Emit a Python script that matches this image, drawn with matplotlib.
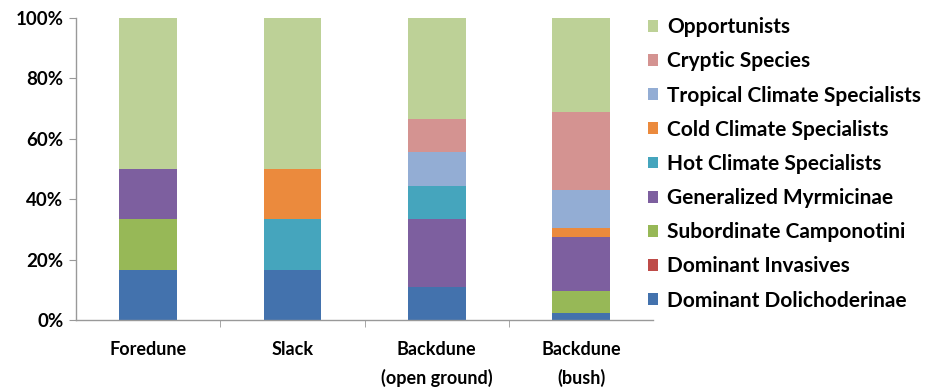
import numpy as np
import matplotlib
matplotlib.use("Agg")
import matplotlib.pyplot as plt
from matplotlib.patches import Patch
from matplotlib.ticker import PercentFormatter, FixedLocator

plt.rcParams["font.family"] = ["Lato", "DejaVu Sans"]
plt.rcParams["font.weight"] = "bold"

# ── data ─────────────────────────────────────────────────────
habitats = ["Foredune", "Slack", "Backdune\n(open ground)", "Backdune\n(bush)"]

groups = [
    "Dominant Dolichoderinae",
    "Dominant Invasives",
    "Subordinate Camponotini",
    "Generalized Myrmicinae",
    "Hot Climate Specialists",
    "Cold Climate Specialists",
    "Tropical Climate Specialists",
    "Cryptic Species",
    "Opportunists",
]

# percent of species per functional group, one list per habitat (bottom → top)
foredune = [16.7, 0.0, 16.7, 16.6, 0.0, 0.0, 0.0, 0.0, 50.0]
slack = [16.7, 0.0, 0.0, 0.0, 16.7, 16.6, 0.0, 0.0, 50.0]
backdune_open = [11.1, 0.0, 0.0, 22.2, 11.1, 0.0, 11.1, 11.1, 33.4]
backdune_bush = [2.4, 0.0, 7.3, 17.9, 0.0, 2.8, 12.7, 25.6, 31.3]

colours = [
    "#4372ad",  # Dominant Dolichoderinae
    "#be4b48",  # Dominant Invasives
    "#97b857",  # Subordinate Camponotini
    "#7d5f9f",  # Generalized Myrmicinae
    "#45a5bd",  # Hot Climate Specialists
    "#eb8a3d",  # Cold Climate Specialists
    "#93add4",  # Tropical Climate Specialists
    "#d49391",  # Cryptic Species
    "#bdd197",  # Opportunists
]

# ── figure ───────────────────────────────────────────────────
fig = plt.figure(figsize=(9.36, 3.89), dpi=100)
ax = fig.add_axes([0.081, 0.177, 0.617, 0.777])

table = np.array([foredune, slack, backdune_open, backdune_bush]).T
x = np.arange(len(habitats))
bottom = np.zeros(len(habitats))
for vals, col in zip(table, colours):
    ax.bar(x, vals, bottom=bottom, width=0.4, color=col, edgecolor="none")
    bottom += vals

ax.set_xlim(-0.5, len(habitats) - 0.5)
ax.set_ylim(0, 100)
ax.yaxis.set_major_locator(FixedLocator([0, 20, 40, 60, 80, 100]))
ax.yaxis.set_major_formatter(PercentFormatter(decimals=0))

ax.set_xticks(x)
ax.set_xticklabels(habitats, fontsize=13, fontweight="bold", linespacing=1.72)
ax.xaxis.set_minor_locator(FixedLocator(np.arange(0.5, len(habitats) - 0.5, 1.0)))
ax.tick_params(axis="x", which="major", length=0, pad=15)
ax.tick_params(axis="x", which="minor", length=5, color="#999999", direction="out")
ax.tick_params(axis="y", length=5, color="#999999", labelsize=13.5, pad=4)
for lbl in ax.get_yticklabels():
    lbl.set_fontweight("bold")

for side in ("top", "right"):
    ax.spines[side].set_visible(False)
for side in ("left", "bottom"):
    ax.spines[side].set_color("#999999")
    ax.spines[side].set_linewidth(1.0)

handles = [Patch(facecolor=c, edgecolor="none") for c in colours][::-1]
ax.legend(handles, groups[::-1], loc="upper left",
          bbox_to_anchor=(0.683, 0.977), bbox_transform=fig.transFigure,
          frameon=False, fontsize=15, handlelength=0.5, handleheight=0.5,
          handletextpad=0.45, labelspacing=0.68, borderaxespad=0)

fig.savefig("out.png", dpi=100)
